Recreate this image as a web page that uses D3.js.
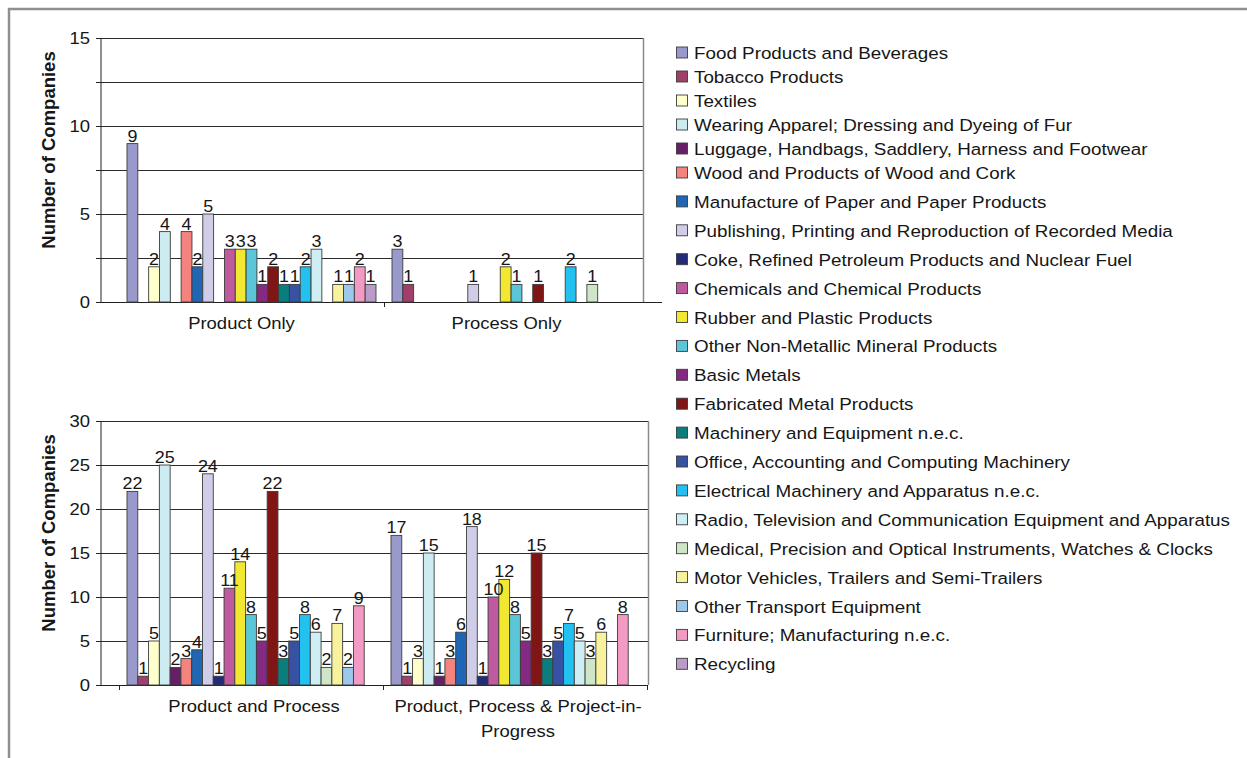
<!DOCTYPE html>
<html>
<head>
<meta charset="utf-8">
<script src="https://cdn.jsdelivr.net/npm/d3@7"></script>
<style>
  html, body { margin: 0; padding: 0; background: #ffffff; }
  svg { display: block; }
  text { font-family: "Liberation Sans", Arial, sans-serif; fill: #161616; }
</style>
</head>
<body>
<svg id="chart" width="1247" height="758"></svg>
<script>
// Industry sectors (one bar series each)
const industries = [
  "Food Products and Beverages",
  "Tobacco Products",
  "Textiles",
  "Wearing Apparel; Dressing and Dyeing of Fur",
  "Luggage, Handbags, Saddlery, Harness and Footwear",
  "Wood and Products of Wood and Cork",
  "Manufacture of Paper and Paper Products",
  "Publishing, Printing and Reproduction of Recorded Media",
  "Coke, Refined Petroleum Products and Nuclear Fuel",
  "Chemicals and Chemical Products",
  "Rubber and Plastic Products",
  "Other Non-Metallic Mineral Products",
  "Basic Metals",
  "Fabricated Metal Products",
  "Machinery and Equipment n.e.c.",
  "Office, Accounting and Computing Machinery",
  "Electrical Machinery and Apparatus n.e.c.",
  "Radio, Television and Communication Equipment and Apparatus",
  "Medical, Precision and Optical Instruments, Watches & Clocks",
  "Motor Vehicles, Trailers and Semi-Trailers",
  "Other Transport Equipment",
  "Furniture; Manufacturing n.e.c.",
  "Recycling"
];

// Innovation type groups
const categoriesTop = ["Product Only", "Process Only"];
const categoriesBottom = ["Product and Process", "Product, Process & Project-in-Progress"];

// Number of companies per sector, in the order of `industries`
const productOnly           = [9, 0, 2, 4, 0, 4, 2, 5, 0, 3, 3, 3, 1, 2, 1, 1, 2, 3, 0, 1, 1, 2, 1];
const processOnly           = [3, 1, 0, 0, 0, 0, 0, 1, 0, 0, 2, 1, 0, 1, 0, 0, 2, 0, 1, 0, 0, 0, 0];
const productAndProcess     = [22, 1, 5, 25, 2, 3, 4, 24, 1, 11, 14, 8, 5, 22, 3, 5, 8, 6, 2, 7, 2, 9, 0];
const productProcessProject = [17, 1, 3, 15, 1, 3, 6, 18, 1, 10, 12, 8, 5, 15, 3, 5, 7, 5, 3, 6, 0, 8, 0];

// Value axis ticks
const yTicksTop = [0, 2.5, 5, 7.5, 10, 12.5, 15];
const yLabelsTop = [0, 5, 10, 15];
const yTicksBottom = [0, 5, 10, 15, 20, 25, 30];
const yLabelsBottom = [0, 5, 10, 15, 20, 25, 30];

const yTitle = "Number of Companies";

// Series fill colours
const palette = [
  "#9999cc", "#a0406a", "#ffffcc", "#cdecf2", "#661f66", "#f4837e",
  "#1f66b4", "#cfcde8", "#232c78", "#c05a9f", "#f2e832", "#5bc6d8",
  "#842a82", "#801515", "#0a7d7d", "#3751a3", "#22c1f0", "#cfeef4",
  "#cfe5c8", "#f8f29c", "#9cc8ec", "#f29ac4", "#b99cc9"
];

const SX = 1.12; // text is drawn slightly wide
const svg = d3.select("#chart");

svg.append("rect").attr("width", 1247).attr("height", 758).attr("fill", "#fff");
// outer frame
svg.append("rect")
  .attr("x", 9).attr("y", 9).attr("width", 1260).attr("height", 780)
  .attr("fill", "none").attr("stroke", "#8f8f8f").attr("stroke-width", 2.5);

const color = d3.scaleOrdinal(industries, palette);

function wideText(sel, x, y) {
  return sel.attr("transform", `translate(${x},${y}) scale(${SX},1)`);
}

function drawPanel(opts) {
  const { cats, series, yMax, ticks, labels, top, bottom, left, plotRight,
          axisEnd, catRange, boundaryTicks, labelShift } = opts;
  const g = svg.append("g");

  const y = d3.scaleLinear().domain([0, yMax]).range([bottom, top]);
  const x0 = d3.scaleBand().domain(cats).range(catRange).padding(0);
  const inset = 8;
  const x1 = d3.scaleBand().domain(industries).range([inset, x0.bandwidth() - inset]).padding(0);

  // gridlines
  g.append("g").selectAll("line").data(ticks.filter(t => t > 0)).join("line")
    .attr("x1", left - 4).attr("x2", plotRight)
    .attr("y1", d => Math.round(y(d)) + 0.5).attr("y2", d => Math.round(y(d)) + 0.5)
    .attr("stroke", "#2b2b2b").attr("stroke-width", 1);

  // right border of plot area
  g.append("line")
    .attr("x1", plotRight + 0.5).attr("x2", plotRight + 0.5)
    .attr("y1", top).attr("y2", bottom)
    .attr("stroke", "#8a8a8a").attr("stroke-width", 1.5);

  // value axis
  const yAxis = d3.axisLeft(y).tickValues(ticks).tickSize(4).tickFormat("");
  const ya = g.append("g").attr("transform", `translate(${left + 0.5},0)`).call(yAxis);
  ya.select(".domain").attr("stroke", "#222");
  ya.selectAll(".tick line").attr("stroke", "#222");

  g.append("g").selectAll("text").data(labels).join("text")
    .attr("text-anchor", "end")
    .attr("font-size", 16.5)
    .text(d => d)
    .each(function (d) { wideText(d3.select(this), left - 10, y(d) + 6); });

  // category axis
  g.append("line")
    .attr("x1", left - 4).attr("x2", axisEnd)
    .attr("y1", bottom + 0.5).attr("y2", bottom + 0.5)
    .attr("stroke", "#222").attr("stroke-width", 1);
  const bounds = [];
  cats.forEach((c, i) => { if (i > 0 || boundaryTicks) bounds.push(x0(c)); });
  if (boundaryTicks) bounds.push(x0(cats[cats.length - 1]) + x0.bandwidth());
  g.append("g").selectAll("line").data(bounds).join("line")
    .attr("x1", d => Math.round(d) + 0.5).attr("x2", d => Math.round(d) + 0.5)
    .attr("y1", bottom).attr("y2", bottom + 5)
    .attr("stroke", "#222");

  // bars
  const groups = g.append("g").selectAll("g").data(cats).join("g")
    .attr("transform", c => `translate(${x0(c)},0)`);
  groups.each(function (c, ci) {
    const vals = industries.map((name, i) => ({ name, v: series[ci][i] })).filter(d => d.v > 0);
    const gg = d3.select(this);
    gg.selectAll("rect").data(vals).join("rect")
      .attr("x", d => x1(d.name))
      .attr("y", d => y(d.v))
      .attr("width", x1.bandwidth())
      .attr("height", d => y(0) - y(d.v))
      .attr("fill", d => color(d.name))
      .attr("stroke", "#3c3c3c").attr("stroke-width", 0.9);
    gg.selectAll("text").data(vals).join("text")
      .attr("text-anchor", "middle")
      .attr("font-size", 16)
      .text(d => d.v)
      .each(function (d) { wideText(d3.select(this), x1(d.name) + x1.bandwidth() / 2, y(d.v) - 2); });
  });

  // category labels, wrapped to the band width
  cats.forEach(c => {
    const cx = x0(c) + x0.bandwidth() / 2 + labelShift;
    const parts = c.match(/[^\s-]+-?\s*|\s+/g);
    const lines = [];
    let cur = "";
    const probe = svg.append("text").attr("font-size", 16.5);
    parts.forEach(p => {
      const test = cur + p;
      probe.text(test.trim());
      if (cur && probe.node().getComputedTextLength() * SX > x0.bandwidth()) {
        lines.push(cur.trim());
        cur = p;
      } else {
        cur = test;
      }
    });
    lines.push(cur.trim());
    probe.remove();
    lines.forEach((ln, li) => {
      g.append("text").attr("text-anchor", "middle").attr("font-size", 16.5)
        .text(ln)
        .call(s => wideText(s, cx, bottom + 27 + li * 25));
    });
  });

  // value axis title
  g.append("text")
    .attr("text-anchor", "middle")
    .attr("font-size", 18.5).attr("font-weight", "bold")
    .attr("transform", `translate(${55},${(top + bottom) / 2 - 20}) rotate(-90)`)
    .text(yTitle);
}

drawPanel({
  cats: categoriesTop,
  series: [productOnly, processOnly],
  yMax: 15, ticks: yTicksTop, labels: yLabelsTop,
  top: 38, bottom: 302, left: 100, plotRight: 643, axisEnd: 662,
  catRange: [119, 649], boundaryTicks: false, labelShift: -10
});

drawPanel({
  cats: categoriesBottom,
  series: [productAndProcess, productProcessProject],
  yMax: 30, ticks: yTicksBottom, labels: yLabelsBottom,
  top: 421, bottom: 685, left: 100, plotRight: 648, axisEnd: 647,
  catRange: [119, 647], boundaryTicks: true, labelShift: 3
});

// legend
const legendY = i => (i <= 5 ? 53 + i * 24 : 173 + (i - 5) * 28.9);
const legend = svg.append("g").selectAll("g").data(industries).join("g")
  .attr("transform", (d, i) => `translate(676,${legendY(i)})`);
legend.append("rect")
  .attr("x", 0.5).attr("y", -6).attr("width", 11).attr("height", 11)
  .attr("fill", d => color(d)).attr("stroke", "#3c3c3c").attr("stroke-width", 0.9);
legend.append("text")
  .attr("font-size", 16.8)
  .text(d => d)
  .call(s => wideText(s, 18, 6));
</script>
</body>
</html>
